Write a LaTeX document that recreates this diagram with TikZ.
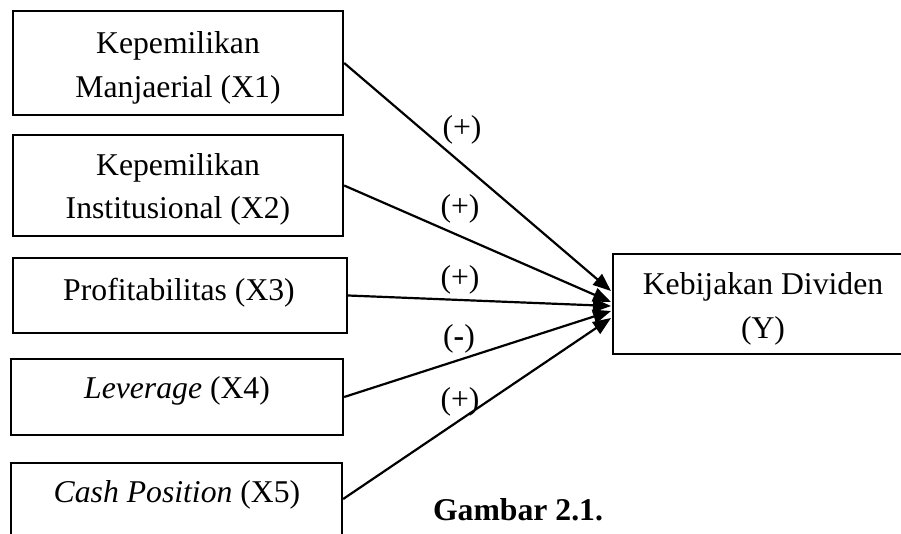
\documentclass[tikz,border=0pt]{standalone}
\usepackage{fontspec}
\setmainfont{Liberation Serif}
\usetikzlibrary{arrows.meta}
\begin{document}
\begin{tikzpicture}[x=1pt,y=-1pt,
  box/.style={draw,line width=2.3pt,inner sep=0pt,anchor=center},
  txt/.style={anchor=base,inner sep=0pt,font=\fontsize{31.7}{44}\selectfont},
  arr/.style={line width=2.2pt,-{Triangle[length=18pt,width=14pt]}}]
\useasboundingbox (0,0) rectangle (901,533);
\clip (0,0) rectangle (901,533);
% boxes
\node[box,minimum width=330pt,minimum height=104pt] (X1) at (178,63) {};
\node[box,minimum width=330pt,minimum height=101pt] (X2) at (178,185.5) {};
\node[box,minimum width=334pt,minimum height=75pt] (X3) at (180,295.5) {};
\node[box,minimum width=332pt,minimum height=76pt] (X4) at (177,397) {};
\node[box,minimum width=331pt,minimum height=72pt] (X5) at (176.5,499) {};
\node[box,minimum width=300pt,minimum height=100pt] (Y) at (763,304) {};
% texts
\node[txt] (t1a) at (178,53.3) {Kepemilikan};
\node[txt] (t1b) at (178,97.3) {Manjaerial (X1)};
\node[txt] (t2a) at (178,175) {Kepemilikan};
\node[txt] (t2b) at (178,218) {Institusional (X2)};
\node[txt] (t3) at (179,300) {Profitabilitas (X3)};
\node[txt] (t4) at (177,398) {\textit{Leverage} (X4)};
\node[txt] (t5) at (177,502) {\textit{Cash Position} (X5)};
\node[txt] (ty1) at (763,294) {Kebijakan Dividen};
\node[txt] (ty2) at (763,338) {(Y)};
% arrow ends
\coordinate (e1) at (611,291);
\coordinate (e2) at (611,302);
\coordinate (e3) at (611,306);
\coordinate (e4) at (611,311);
\coordinate (e5) at (611,318);
\draw[arr] (X1.east) -- (e1);
\draw[arr] (X2.east) -- (e2);
\draw[arr] (X3.east) -- (e3);
\draw[arr] (X4.east) -- (e4);
\draw[arr] (X5.east) -- (e5);
% labels
\node[txt] (s1) at (462,137) {(+)};
\node[txt] (s2) at (460,216) {(+)};
\node[txt] (s3) at (460,287) {(+)};
\node[txt] (s4) at (459,346) {(\textbf{-})};
\node[txt] (s5) at (460,409) {(+)};
\node[txt] (cap) at (518,520) {\textbf{Gambar 2.1.}};
\end{tikzpicture}
\end{document}
